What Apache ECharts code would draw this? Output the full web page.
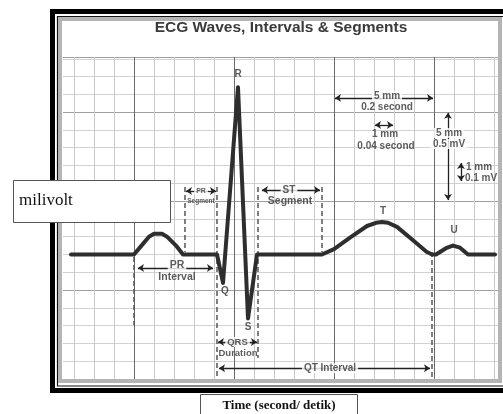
<!DOCTYPE html>
<html><head><meta charset="utf-8">
<script src="https://cdn.jsdelivr.net/npm/echarts@6/dist/echarts.min.js"></script>
<style>html,body{margin:0;padding:0;background:#fff}#c{width:503px;height:414px}</style>
</head><body><div id="c"></div>
<script>
// ECG trace: time (s) and amplitude (mV)
const ecgTime = [-0.126, 0, 0.012, 0.03, 0.04, 0.056, 0.066, 0.084, 0.098, 0.166, 0.178, 0.208, 0.228, 0.246, 0.376, 0.40, 0.432, 0.466, 0.484, 0.496, 0.508, 0.526, 0.558, 0.585, 0.596, 0.604, 0.624, 0.638, 0.652, 0.668, 0.722];
const ecgMv   = [0.2, 0.2, 0.24, 0.3, 0.316, 0.316, 0.3, 0.25, 0.2, 0.2, 0.04, 1.14, -0.16, 0.2, 0.2, 0.23, 0.295, 0.36, 0.378, 0.382, 0.378, 0.355, 0.28, 0.215, 0.2, 0.2, 0.235, 0.25, 0.238, 0.2, 0.2];

// wave labels
const waveNames = ['R', 'Q', 'S', 'T', 'U'];
const waveT     = [0.208, 0.182, 0.228, 0.498, 0.64];
const waveMv    = [1.215, -0.006, -0.208, 0.444, 0.337];

// dashed boundaries
const boundaryT      = [0, 0.102, 0.166, 0.248, 0.376, 0.596];
const boundaryTop    = [0.186, 0.579, 0.579, 0.579, 0.579, 0.214];
const boundaryBottom = [-0.197, 0.214, -0.495, -0.382, 0.214, -0.495];

// horizontal double arrows (spans)
const spanStart = [0.104, 0.256, 0.008, 0.168, 0.17, 0.402, 0.482];
const spanEnd   = [0.164, 0.372, 0.158, 0.246, 0.592, 0.598, 0.518];
const spanMv    = [0.557, 0.562, 0.124, -0.292, -0.439, 1.08, 0.928];

// vertical double arrows
const vArrowT      = [0.628, 0.654];
const vArrowTop    = [0.996, 0.714];
const vArrowBottom = [0.506, 0.613];

// annotation texts
const noteText = ['PR', 'Segment', 'ST', 'Segment', 'PR', 'Interval', 'QRS', 'Duration', 'QT Interval',
                  '5 mm', '0.2 second', '1 mm', '0.04 second', '5 mm', '0.5 mV', '1 mm', '0.1 mV'];
const noteT  = [0.134, 0.134, 0.31, 0.312, 0.086, 0.086, 0.207, 0.208, 0.392, 0.506, 0.506, 0.502, 0.504, 0.63, 0.63, 0.69, 0.694];
const noteMv = [0.557, 0.5, 0.562, 0.5, 0.141, 0.073, -0.292, -0.354, -0.439, 1.091, 1.029, 0.877, 0.81, 0.883, 0.821, 0.692, 0.63];
const noteSize = [7, 6.5, 10, 10.5, 10.5, 10.5, 9.5, 9.5, 10, 10, 10, 10, 10, 10, 10, 10, 10];
const noteBg   = [1, 0, 1, 0, 1, 0, 1, 0, 1, 1, 0, 0, 0, 1, 1, 0, 0];

const chart = echarts.init(document.getElementById('c'), null, {renderer: 'canvas'});
const FONT = '"Liberation Sans", Arial, sans-serif';

const option = {
  animation: false,
  backgroundColor: '#fff',
  title: {
    text: 'ECG Waves, Intervals & Segments',
    left: 281, top: 20, textAlign: 'center', padding: 0,
    textStyle: {fontFamily: FONT, fontSize: 15.5, fontWeight: 'bold', color: '#3a3a3a'}
  },
  grid: {left: 34, right: 3, top: 57, bottom: 35},
  xAxis: {
    type: 'value', min: -0.2, max: 0.732, interval: 0.2,
    axisLine: {show: false}, axisTick: {show: false}, axisLabel: {show: false},
    splitLine: {show: true, lineStyle: {color: '#6a6a6a', width: 1}},
    minorTick: {show: false, splitNumber: 5},
    minorSplitLine: {show: true, lineStyle: {color: '#cacaca', width: 1}}
  },
  yAxis: {
    type: 'value', min: -0.5, max: 1.31, interval: 0.5,
    axisLine: {show: false}, axisTick: {show: false}, axisLabel: {show: false},
    splitLine: {show: true, lineStyle: {color: '#a0a0a0', width: 1}},
    minorTick: {show: false, splitNumber: 5},
    minorSplitLine: {show: true, lineStyle: {color: '#d2d2d2', width: 1}}
  },
  series: [
    {
      type: 'line', name: 'boundaries', data: [], silent: true, z: 2,
      markLine: {
        silent: true, animation: false, z: 2, symbol: ['none', 'none'],
        label: {show: false},
        lineStyle: {color: '#555', width: 1.5, type: [5, 3]},
        data: boundaryT.map((t, i) => [{coord: [t, boundaryTop[i]]}, {coord: [t, boundaryBottom[i]]}])
      }
    },
    {
      type: 'line', name: 'arrows', data: [], silent: true, z: 2,
      markLine: {
        silent: true, animation: false, z: 2, symbol: ['arrow', 'arrow'], symbolSize: 6,
        label: {show: false},
        lineStyle: {color: '#222', width: 1.3, type: 'solid'},
        data: spanStart.map((s, i) => [{coord: [s, spanMv[i]]}, {coord: [spanEnd[i], spanMv[i]]}])
          .concat(vArrowT.map((t, i) => [{coord: [t, vArrowTop[i]]}, {coord: [t, vArrowBottom[i]]}]))
      }
    },
    {
      type: 'line', name: 'ECG', z: 3,
      data: ecgTime.map((t, i) => [t, ecgMv[i]]),
      showSymbol: false, clip: false,
      lineStyle: {color: '#2e2e2e', width: 4, join: 'round', cap: 'round'}
    },
    {
      type: 'scatter', name: 'notes', z: 6, symbolSize: 1, silent: true,
      itemStyle: {color: 'rgba(0,0,0,0)'},
      label: {show: true, position: 'inside', formatter: '{b}', color: '#333', fontWeight: 'bold', fontFamily: FONT},
      data: noteText.map((txt, i) => ({
        name: txt, value: [noteT[i], noteMv[i]],
        label: {fontSize: noteSize[i], backgroundColor: noteBg[i] ? '#fff' : 'transparent', padding: noteBg[i] ? [0, 2] : 0}
      })).concat(waveNames.map((n, i) => ({
        name: n, value: [waveT[i], waveMv[i]],
        label: {fontSize: 10}
      })))
    }
  ],
  graphic: [
    {type: 'rect', z: 10, silent: true, shape: {x: 0, y: 0, width: 63, height: 414}, style: {fill: '#fff'}},
    {type: 'rect', z: 11, silent: true, shape: {x: 52.5, y: 11.5, width: 470, height: 379}, style: {fill: null, stroke: '#000', lineWidth: 5}},
    {type: 'rect', z: 11, silent: true, shape: {x: 57.5, y: 16.5, width: 460, height: 369.5}, style: {fill: null, stroke: '#111', lineWidth: 1.2}},
    {type: 'rect', z: 11, silent: true, shape: {x: 60, y: 19, width: 440, height: 362}, style: {fill: null, stroke: '#b4b4b4', lineWidth: 4}},
    {type: 'rect', z: 12, silent: true, shape: {x: 13.5, y: 180.5, width: 157, height: 42}, style: {fill: '#fff', stroke: '#555', lineWidth: 1}},
    {type: 'text', z: 13, silent: true, x: 19, y: 201, style: {text: 'milivolt', fill: '#111', font: '17px "Liberation Serif", "Times New Roman", serif', verticalAlign: 'middle', align: 'left'}},
    {type: 'rect', z: 12, silent: true, shape: {x: 200.5, y: 394.5, width: 157, height: 30}, style: {fill: '#fff', stroke: '#555', lineWidth: 1}},
    {type: 'text', z: 13, silent: true, x: 279, y: 406, style: {text: 'Time (second/ detik)', fill: '#111', font: 'bold 13px "Liberation Serif", "Times New Roman", serif', verticalAlign: 'middle', align: 'center'}}
  ]
};
chart.setOption(option);
</script>
</body></html>
